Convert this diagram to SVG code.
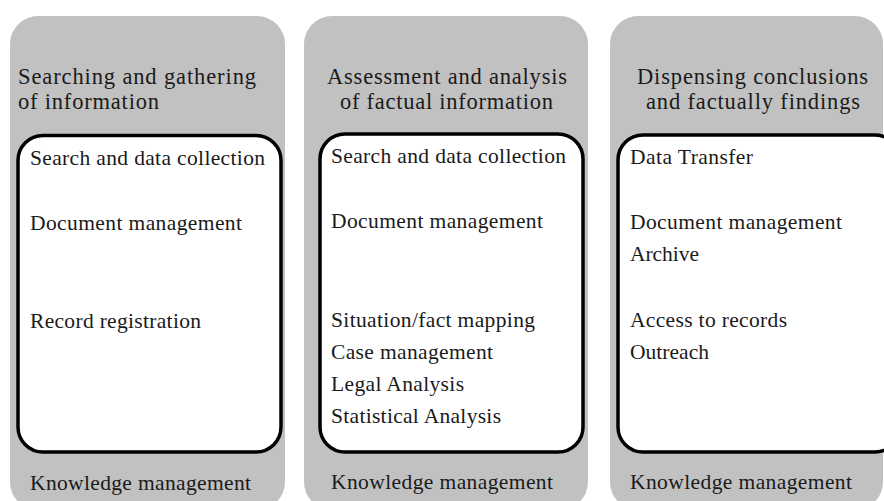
<svg xmlns="http://www.w3.org/2000/svg" width="884" height="501" viewBox="0 0 884 501">
<style>
.col{fill:#c1c1c1;stroke:none}
.box{fill:#ffffff;stroke:#000000;stroke-width:3.5}
text{font-size:21.5px;fill:#1a1a1a}
.t{font-size:22.5px}
</style>
<rect width="884" height="501" fill="#ffffff"/>
<g font-family="'Liberation Serif', 'Times New Roman', 'DejaVu Serif', serif">
<g id="col1">
<rect class="col" x="10" y="16" width="275" height="494" rx="28"/>
<text class="t" x="18" y="84" textLength="238" lengthAdjust="spacing">Searching and gathering</text>
<text class="t" x="18" y="109" textLength="141" lengthAdjust="spacing">of information</text>
<rect class="box" x="18" y="135.5" width="263" height="316.5" rx="25"/>
<text x="30" y="165" textLength="235" lengthAdjust="spacing">Search and data collection</text>
<text x="30" y="230" textLength="212" lengthAdjust="spacing">Document management</text>
<text x="30" y="328" textLength="171" lengthAdjust="spacing">Record registration</text>
<text x="30" y="490" textLength="221" lengthAdjust="spacing">Knowledge management</text>
</g>
<g id="col2">
<rect class="col" x="304" y="16" width="284" height="494" rx="28"/>
<text class="t" x="327" y="84" textLength="240" lengthAdjust="spacing">Assessment and analysis</text>
<text class="t" x="340" y="109" textLength="213" lengthAdjust="spacing">of factual information</text>
<rect class="box" x="320" y="134" width="263" height="318" rx="25"/>
<text x="331" y="163" textLength="235" lengthAdjust="spacing">Search and data collection</text>
<text x="331" y="228" textLength="212" lengthAdjust="spacing">Document management</text>
<text x="331" y="327" textLength="204" lengthAdjust="spacing">Situation/fact mapping</text>
<text x="331" y="359" textLength="162" lengthAdjust="spacing">Case management</text>
<text x="331" y="391" textLength="133" lengthAdjust="spacing">Legal Analysis</text>
<text x="331" y="423" textLength="170" lengthAdjust="spacing">Statistical Analysis</text>
<text x="331" y="489" textLength="222" lengthAdjust="spacing">Knowledge management</text>
</g>
<g id="col3">
<rect class="col" x="610" y="16" width="273" height="494" rx="28"/>
<text class="t" x="637" y="84" textLength="231" lengthAdjust="spacing">Dispensing conclusions</text>
<text class="t" x="646" y="109" textLength="214" lengthAdjust="spacing">and factually findings</text>
<rect class="box" x="618" y="135" width="282" height="317" rx="25"/>
<text x="630" y="164" textLength="123" lengthAdjust="spacing">Data Transfer</text>
<text x="630" y="229" textLength="212" lengthAdjust="spacing">Document management</text>
<text x="630" y="261" textLength="69" lengthAdjust="spacing">Archive</text>
<text x="630" y="327" textLength="157" lengthAdjust="spacing">Access to records</text>
<text x="630" y="359" textLength="79" lengthAdjust="spacing">Outreach</text>
<text x="630" y="489" textLength="222" lengthAdjust="spacing">Knowledge management</text>
</g>
</g>
<g id="connectors"></g>
</svg>
